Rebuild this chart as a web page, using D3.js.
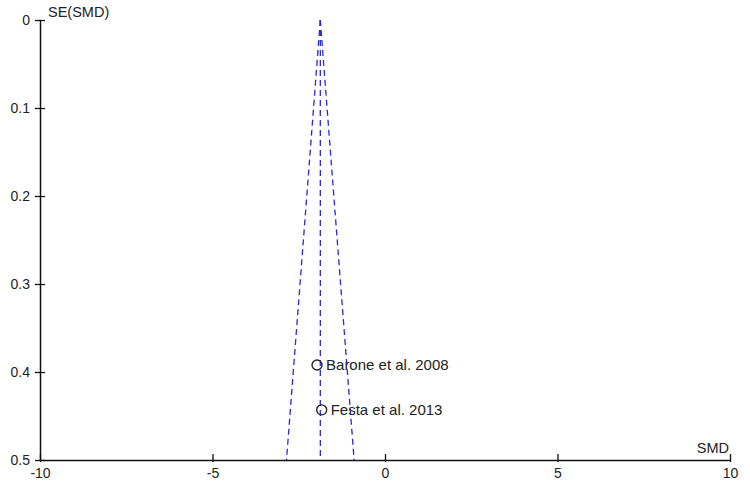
<!DOCTYPE html>
<html>
<head>
<meta charset="utf-8">
<script src="https://cdn.jsdelivr.net/npm/d3@7"></script>
<style>
  body { margin: 0; background: #fff; }
  text { font-family: "Liberation Sans", Arial, sans-serif; fill: #222; }
</style>
</head>
<body>
<div id="wrapper"></div>
<script>
const studies = ["Barone et al. 2008", "Festa et al. 2013"];
const smdValues = [-1.97, -1.835];
const seValues = [0.392, 0.443];
const pooledSmd = -1.875;
const seMax = 0.5;
const xTicks = [-10, -5, 0, 5, 10];
const yTicks = [0, 0.1, 0.2, 0.3, 0.4, 0.5];

function drawFunnel() {
    const dimensions = {
        width: 750,
        height: 500,
        margin: { top: 20, right: 20, bottom: 40, left: 40 }
    };
    dimensions.boundedwidth = dimensions.width - dimensions.margin.left - dimensions.margin.right;
    dimensions.boundedheight = dimensions.height - dimensions.margin.top - dimensions.margin.bottom;

    const wrapper = d3.select("#wrapper")
        .append("svg")
        .attr("width", dimensions.width)
        .attr("height", dimensions.height);

    const bounds = wrapper.append("g")
        .attr("transform", `translate(${dimensions.margin.left}, ${dimensions.margin.top})`);

    const xScale = d3.scaleLinear()
        .domain([-10, 10])
        .range([0, dimensions.boundedwidth]);

    const yScale = d3.scaleLinear()
        .domain([0, seMax])
        .range([0, dimensions.boundedheight]);

    // Funnel (pseudo 95% limits) and pooled line
    const funnel = [
        [[pooledSmd, 0], [pooledSmd - 1.96 * seMax, seMax]],
        [[pooledSmd, 0], [pooledSmd + 1.96 * seMax, seMax]],
        [[pooledSmd, 0], [pooledSmd, seMax]]
    ];
    const line = d3.line()
        .x(d => xScale(d[0]))
        .y(d => yScale(d[1]));

    bounds.selectAll(".funnel")
        .data(funnel)
        .enter()
        .append("path")
        .attr("class", "funnel")
        .attr("d", line)
        .attr("fill", "none")
        .attr("stroke", "#2727e6")
        .attr("stroke-width", 1.3)
        .attr("stroke-dasharray", "6 4");

    // Axes
    const yAxisGenerator = d3.axisLeft(yScale)
        .tickValues(yTicks)
        .tickFormat(d => d === 0 ? "0" : d3.format(".1f")(d))
        .tickSizeInner(5)
        .tickSizeOuter(0)
        .tickPadding(5);
    const yAxis = bounds.append("g").call(yAxisGenerator);
    yAxis.selectAll(".tick line").attr("x2", 5).attr("x1", -5);

    const xAxisGenerator = d3.axisBottom(xScale)
        .tickValues(xTicks)
        .tickFormat(d => String(d))   // plain hyphen like the original
        .tickSizeInner(-6)
        .tickSizeOuter(0)
        .tickPadding(8);
    const xAxis = bounds.append("g")
        .attr("transform", `translate(0, ${dimensions.boundedheight})`)
        .call(xAxisGenerator);
    xAxis.selectAll(".tick line").attr("y1", 2);

    [yAxis, xAxis].forEach(ax => {
        ax.select(".domain").attr("stroke", "#111").attr("stroke-width", 1.5);
        ax.selectAll(".tick line").attr("stroke", "#111").attr("stroke-width", 1.3);
        ax.selectAll(".tick text")
            .attr("font-size", "14px")
            .attr("font-family", "Liberation Sans, Arial, sans-serif")
            .attr("fill", "#222");
    });

    // Study points
    bounds.selectAll(".study")
        .data(studies)
        .enter()
        .append("circle")
        .attr("class", "study")
        .attr("cx", (d, i) => xScale(smdValues[i]))
        .attr("cy", (d, i) => yScale(seValues[i]))
        .attr("r", 5)
        .attr("fill", "none")
        .attr("stroke", "#222")
        .attr("stroke-width", 1.4);

    bounds.selectAll(".study-label")
        .data(studies)
        .enter()
        .append("text")
        .attr("class", "study-label")
        .attr("x", (d, i) => xScale(smdValues[i]) + 9)
        .attr("y", (d, i) => yScale(seValues[i]))
        .attr("dy", "0.35em")
        .attr("font-size", "15px")
        .text(d => d);

    // Axis titles
    wrapper.append("text")
        .attr("x", dimensions.margin.left + 8)
        .attr("y", 17)
        .attr("font-size", "14.5px")
        .text("SE(SMD)");

    wrapper.append("text")
        .attr("x", dimensions.margin.left + dimensions.boundedwidth - 1)
        .attr("y", dimensions.margin.top + dimensions.boundedheight - 7)
        .attr("text-anchor", "end")
        .attr("font-size", "14.5px")
        .text("SMD");
}

drawFunnel();
</script>
</body>
</html>
